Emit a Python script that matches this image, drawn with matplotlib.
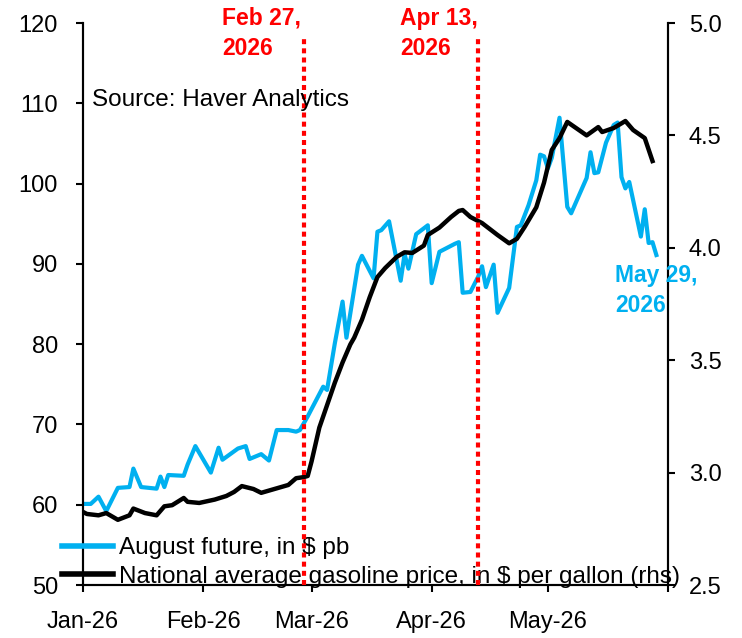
import numpy as np
import pandas as pd
import matplotlib
matplotlib.use('Agg')
import matplotlib.pyplot as plt
from matplotlib import ticker

plt.rcParams['font.family'] = ['Liberation Sans', 'DejaVu Sans']

# August future, $ per barrel (left axis)
futureDates = ['2026-01-01', '2026-01-03', '2026-01-05', '2026-01-07', '2026-01-10',
               '2026-01-13', '2026-01-14', '2026-01-16', '2026-01-20', '2026-01-21',
               '2026-01-22', '2026-01-23', '2026-01-27', '2026-01-28', '2026-01-30',
               '2026-02-03', '2026-02-05', '2026-02-06', '2026-02-10', '2026-02-12',
               '2026-02-13', '2026-02-16', '2026-02-18', '2026-02-20', '2026-02-23',
               '2026-02-25', '2026-02-26', '2026-02-28', '2026-03-04', '2026-03-05',
               '2026-03-07', '2026-03-09', '2026-03-10', '2026-03-13', '2026-03-14',
               '2026-03-17', '2026-03-18', '2026-03-19', '2026-03-21', '2026-03-24',
               '2026-03-25', '2026-03-26', '2026-03-28', '2026-03-31', '2026-04-01',
               '2026-04-03', '2026-04-07', '2026-04-08', '2026-04-09', '2026-04-11',
               '2026-04-13', '2026-04-14', '2026-04-15', '2026-04-17', '2026-04-18',
               '2026-04-21', '2026-04-23', '2026-04-24', '2026-04-26', '2026-04-28',
               '2026-04-29', '2026-04-30', '2026-05-01', '2026-05-02', '2026-05-04',
               '2026-05-06', '2026-05-07', '2026-05-11', '2026-05-12', '2026-05-13',
               '2026-05-14', '2026-05-16', '2026-05-18', '2026-05-19', '2026-05-20',
               '2026-05-21', '2026-05-22', '2026-05-25', '2026-05-26', '2026-05-27',
               '2026-05-28', '2026-05-29']
futureVals = [60.1, 60.1, 61.0, 59.2, 62.1,
              62.2, 64.5, 62.2, 62.0, 63.5,
              62.2, 63.7, 63.6, 65.0, 67.3,
              64.0, 67.1, 65.6, 67.0, 67.3,
              65.7, 66.3, 65.5, 69.3, 69.3,
              69.1, 69.3, 71.0, 74.7, 74.3,
              80.1, 85.3, 80.8, 89.9, 91.0,
              88.2, 94.0, 94.2, 95.3, 87.9,
              91.2, 89.4, 93.7, 94.8, 87.6,
              91.5, 92.5, 92.7, 86.4, 86.5,
              88.4, 89.7, 87.1, 89.9, 83.9,
              87.0, 94.6, 94.8, 97.3, 100.4,
              103.6, 103.4, 101.9, 103.2, 108.2,
              97.1, 96.3, 100.7, 103.9, 101.3,
              101.4, 105.1, 107.3, 107.6, 100.8,
              99.4, 100.2, 93.4, 96.8, 92.6,
              92.7, 91.1]

# national average gasoline price, $ per gallon (right axis)
gasDates = ['2026-01-01', '2026-01-02', '2026-01-05', '2026-01-07', '2026-01-10',
            '2026-01-13', '2026-01-14', '2026-01-17', '2026-01-20', '2026-01-22',
            '2026-01-24', '2026-01-27', '2026-01-28', '2026-01-31', '2026-02-04',
            '2026-02-07', '2026-02-09', '2026-02-11', '2026-02-14', '2026-02-16',
            '2026-02-20', '2026-02-23', '2026-02-25', '2026-02-27', '2026-02-28',
            '2026-03-01', '2026-03-03', '2026-03-05', '2026-03-07', '2026-03-09',
            '2026-03-11', '2026-03-12', '2026-03-14', '2026-03-16', '2026-03-18',
            '2026-03-20', '2026-03-23', '2026-03-25', '2026-03-27', '2026-03-30',
            '2026-03-31', '2026-04-03', '2026-04-06', '2026-04-08', '2026-04-09',
            '2026-04-11', '2026-04-12', '2026-04-14', '2026-04-18', '2026-04-21',
            '2026-04-23', '2026-04-25', '2026-04-28', '2026-04-30', '2026-05-02',
            '2026-05-04', '2026-05-06', '2026-05-09', '2026-05-11', '2026-05-14',
            '2026-05-15', '2026-05-18', '2026-05-21', '2026-05-23', '2026-05-26',
            '2026-05-28']
gasVals = [2.825, 2.816, 2.81, 2.82, 2.79,
           2.81, 2.84, 2.82, 2.81, 2.85,
           2.855, 2.887, 2.87, 2.865, 2.88,
           2.896, 2.914, 2.94, 2.927, 2.91,
           2.93, 2.945, 2.975, 2.98, 2.985,
           3.05, 3.20, 3.30, 3.40, 3.49,
           3.57, 3.60, 3.68, 3.78, 3.87,
           3.91, 3.96, 3.98, 3.977, 4.01,
           4.057, 4.09, 4.137, 4.164, 4.168,
           4.137, 4.128, 4.11, 4.057, 4.02,
           4.04, 4.093, 4.18, 4.29, 4.435,
           4.488, 4.56, 4.524, 4.50, 4.537,
           4.515, 4.533, 4.564, 4.524, 4.488,
           4.386]

eventDates = ['2026-02-27', '2026-04-13']
eventLabels = ['Feb 27,\n2026', 'Apr 13,\n2026']
monthTicks = ['2026-01-01', '2026-02-01', '2026-03-01', '2026-04-01', '2026-05-01', '2026-06-01']
monthLabels = ['Jan-26', 'Feb-26', 'Mar-26', 'Apr-26', 'May-26', '']

blue = '#00B0F0'
fs = 17.5

fig, ax = plt.subplots(figsize=(7.42, 6.38), dpi=100)
fig.subplots_adjust(left=83/742, right=668/742, top=1-23/638, bottom=1-585/638)
ax2 = ax.twinx()

l1, = ax.plot(pd.to_datetime(futureDates), futureVals, color=blue, lw=3,
              label='August future, in $ pb')
l2, = ax2.plot(pd.to_datetime(gasDates), gasVals, color='black', lw=3.2,
               label='National average gasoline price, in $ per gallon (rhs)')

for d in eventDates:
    ax2.axvline(pd.Timestamp(d), ymax=0.978, color='red', lw=3,
                linestyle=(0, (1.2, 1.0)), zorder=10)

ax.set_xlim(pd.Timestamp('2026-01-01'), pd.Timestamp('2026-06-01'))
ax.set_ylim(50, 120)
ax2.set_ylim(2.5, 5.0)
ax.set_yticks(np.arange(50, 121, 10))
ax2.set_yticks(np.arange(2.5, 5.01, 0.5))
ax2.yaxis.set_major_formatter(ticker.FormatStrFormatter('%.1f'))
ax.set_xticks(pd.to_datetime(monthTicks))
ax.set_xticklabels(monthLabels)

for a in (ax, ax2):
    a.spines['top'].set_visible(False)
    for s in a.spines.values():
        s.set_linewidth(1.5)
    a.tick_params(direction='out', length=5, width=1.5, labelsize=17)
ax.tick_params(axis='y', pad=13)
ax2.tick_params(axis='y', pad=10)
ax.tick_params(axis='x', pad=14)

fig.text(92/742, 1-100/638, 'Source: Haver Analytics', fontsize=fs, va='center')
for x, lab in zip([222, 400], eventLabels):
    fig.text(x/742, 1-7/638, lab, color='red', fontsize=16.5, fontweight='bold',
             va='top', linespacing=1.4)
fig.text(615/742, 1-264/638, 'May 29,\n2026', color=blue, fontsize=16.5,
         fontweight='bold', va='top', linespacing=1.4)

leg = ax2.legend(handles=[l1, l2], loc='lower left', frameon=False, fontsize=fs,
                 bbox_to_anchor=(62/742, 1-588/638), bbox_transform=fig.transFigure,
                 borderpad=0, borderaxespad=0, handlelength=2.1, handletextpad=0.25,
                 labelspacing=0.28)
for h in leg.get_lines():
    h.set_linewidth(4)

fig.savefig('out.png', dpi=100)
